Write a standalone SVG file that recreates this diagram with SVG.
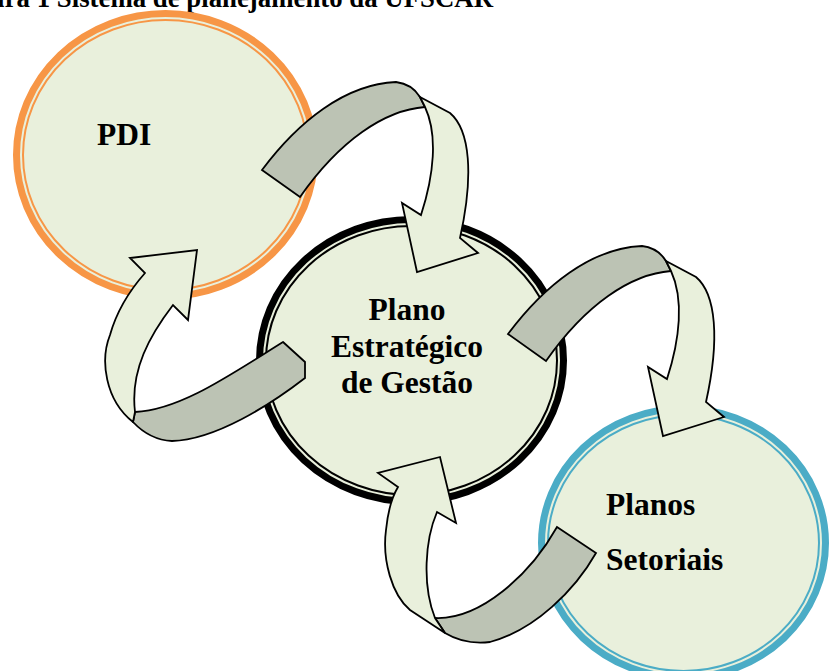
<svg xmlns="http://www.w3.org/2000/svg" width="829" height="671" viewBox="0 0 829 671">
<style>
.fill{fill:#E9F0DC}
.thick{stroke-width:7}
.thin{fill:none;stroke-width:2}
.lbl{font-family:"Liberation Serif","Times New Roman",serif;font-weight:bold;font-size:31.5px;fill:#000}
.title{font-family:"Liberation Serif","Times New Roman",serif;font-weight:bold;font-size:26.8px;fill:#000}
.back{fill:#BCC3B4;stroke:#000;stroke-width:1.8;stroke-linejoin:miter}
.front{fill:#E9F0DC;stroke:#000;stroke-width:1.8;stroke-linejoin:miter}
</style>
<rect width="829" height="671" fill="#fff"/>
<text class="title" x="493" y="7" text-anchor="end">Figura 1 Sistema de planejamento da UFSCAR</text>

<g id="node-pdi">
<ellipse class="fill thick" cx="165.5" cy="155" rx="149" ry="141.5" stroke="#F79646"/>
<ellipse class="thin" cx="165.5" cy="155" rx="142.5" ry="135" stroke="#F79646"/>
<text class="lbl" x="97" y="145">PDI</text>
</g>

<g id="node-peg">
<ellipse class="fill thick" cx="411.5" cy="360.5" rx="152" ry="141" stroke="#000"/>
<ellipse class="thin" cx="411.5" cy="360.5" rx="145.5" ry="134.5" stroke="#000"/>
<text class="lbl" text-anchor="middle"><tspan x="407" y="320">Plano</tspan><tspan x="407" y="357">Estratégico</tspan><tspan x="407" y="393">de Gestão</tspan></text>
</g>

<g id="node-setoriais">
<ellipse class="fill thick" cx="683.5" cy="543" rx="142" ry="134.5" stroke="#4BACC6"/>
<ellipse class="thin" cx="683.5" cy="543" rx="135.5" ry="128" stroke="#4BACC6"/>
<text class="lbl"><tspan x="606" y="515">Planos</tspan><tspan x="606" y="570">Setoriais</tspan></text>
</g>

<g id="connectors">
<g id="arrow-pdi-peg">
<path class="back" d="M262,170 C298,122 345,84 396,82 Q412,84 420,97 L425,107 C385,110 340,140 300,197 Z"/>
<path class="front" d="M420,97 L450,113 C470,130 474,175 460,238 L478,253 L417,272 L402,203 L421,215 C434,175 438,135 425,107 Z"/>
</g>
<g id="arrow-peg-setoriais" transform="translate(246,164)">
<path class="back" d="M262,170 C298,122 345,84 396,82 Q412,84 420,97 L425,107 C385,110 340,140 300,197 Z"/>
<path class="front" d="M420,97 L450,113 C470,130 474,175 460,238 L478,253 L417,272 L402,203 L421,215 C434,175 438,135 425,107 Z"/>
</g>
<g id="arrow-peg-pdi">
<path class="back" d="M283,342 L305,362 L305,378 C270,405 215,440 172,441 Q150,440 133,422 L135,412 C180,410 230,375 283,342 Z"/>
<path class="front" d="M133,422 C105,400 100,360 110,335 C117,310 130,290 145,273 L130,258 L197,250 L188,320 L173,305 C150,335 130,370 135,412 Z"/>
</g>
<g id="arrow-setoriais-peg">
<path class="back" d="M557,527 L596,553 C575,590 535,630 490,642 Q465,645 445,633 L435,618 C480,620 530,575 557,527 Z"/>
<path class="front" d="M445,633 L410,610 C392,595 382,560 386,530 C388,510 392,497 398,487 L378,473 L440,457 L456,523 L437,512 C425,540 422,585 435,618 Z"/>
</g>
</g>
</svg>
